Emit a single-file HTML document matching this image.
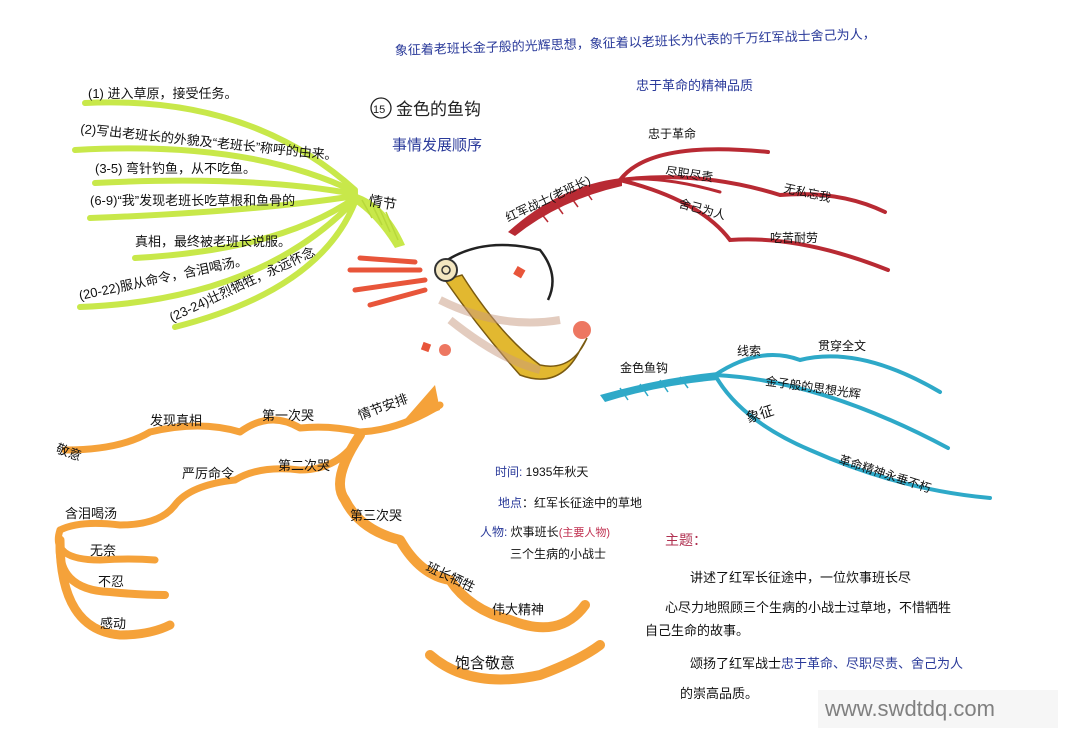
<!DOCTYPE html>
<html><head><meta charset="utf-8"><style>
html,body{margin:0;padding:0;background:#fff;}
svg{display:block;}
text{font-family:"Liberation Sans","Noto Sans CJK SC",sans-serif;}
</style></head><body>
<svg width="1080" height="751" viewBox="0 0 1080 751" xmlns="http://www.w3.org/2000/svg">
<rect width="1080" height="751" fill="#fff"/>
<text x="395" y="55" font-size="13" fill="#2a3a9a" transform="rotate(-2 395 55)">象征着老班长金子般的光辉思想，象征着以老班长为代表的千万红军战士舍己为人，</text>
<text x="636" y="90" font-size="13" fill="#2a3a9a">忠于革命的精神品质</text>
<circle cx="381" cy="108" r="10" fill="none" stroke="#222" stroke-width="1.3"/>
<text x="373" y="113" font-size="11" fill="#222">15</text>
<text x="396" y="115" font-size="17" fill="#222">金色的鱼钩</text>
<text x="392" y="150" font-size="15" fill="#2a3a9a">事情发展顺序</text>

<g fill="none" stroke="#c8e84a" stroke-linecap="round">
<path d="M85 103 Q250 95 355 190" stroke-width="6"/>
<path d="M75 150 Q250 140 355 192" stroke-width="6"/>
<path d="M95 183 Q250 175 355 194" stroke-width="6"/>
<path d="M90 218 Q250 212 355 196" stroke-width="6"/>
<path d="M135 258 Q280 250 355 198" stroke-width="6"/>
<path d="M80 307 Q260 300 355 200" stroke-width="6"/>
<path d="M175 327 Q320 290 355 202" stroke-width="6"/>
</g>
<path d="M350 192 Q385 200 405 245 L395 248 Q375 215 350 200 Z" fill="#c8e84a"/>
<g stroke="#b8d83a" stroke-width="1.5">
<line x1="362" y1="200" x2="372" y2="218"/><line x1="370" y1="200" x2="382" y2="225"/><line x1="378" y1="205" x2="390" y2="232"/><line x1="386" y1="212" x2="398" y2="240"/>
</g>
<g font-size="13" fill="#111">
<text x="88" y="98">(1) 进入草原，接受任务。</text>
<text x="80" y="133" transform="rotate(6 80 133)">(2)写出老班长的外貌及“老班长”称呼的由来。</text>
<text x="95" y="173">(3-5) 弯针钓鱼，从不吃鱼。</text>
<text x="90" y="205">(6-9)“我”发现老班长吃草根和鱼骨的</text>
<text x="135" y="246">真相，最终被老班长说服。</text>
<text x="80" y="300" transform="rotate(-12 80 300)">(20-22)服从命令，含泪喝汤。</text>
<text x="172" y="322" transform="rotate(-25 172 322)">(23-24)壮烈牺牲，永远怀念</text>
<text x="368" y="205" font-size="14" transform="rotate(10 368 205)">情节</text>
</g>

<g fill="none" stroke="#b82a33" stroke-linecap="round">
<path d="M620 180 Q650 140 768 152" stroke-width="4"/>
<path d="M620 180 Q700 170 780 195 Q840 190 885 212" stroke-width="4"/>
<path d="M620 180 Q700 200 730 240 Q800 235 888 270" stroke-width="4"/>
<path d="M620 180 Q660 175 720 192" stroke-width="3"/>
</g>
<path d="M622 178 Q560 185 508 232 L515 236 Q560 200 622 186 Z" fill="#b82a33"/>
<g stroke="#b82a33" stroke-width="1.5"><line x1="540" y1="212" x2="548" y2="222"/><line x1="555" y1="203" x2="563" y2="214"/><line x1="570" y1="196" x2="578" y2="207"/><line x1="585" y1="190" x2="592" y2="200"/></g>
<g font-size="12" fill="#111">
<text x="508" y="222" transform="rotate(-25 508 222)">红军战士(老班长)</text>
<text x="648" y="138">忠于革命</text>
<text x="665" y="175" transform="rotate(8 665 175)">尽职尽责</text>
<text x="678" y="207" transform="rotate(15 678 207)">舍己为人</text>
<text x="783" y="192" transform="rotate(12 783 192)">无私忘我</text>
<text x="770" y="242">吃苦耐劳</text>
</g>

<g>
<path d="M350 270 L420 270 M355 290 L425 280 M360 258 L415 262 M370 305 L425 290" stroke="#e8553a" stroke-width="5" stroke-linecap="round"/>
<path d="M440 265 Q480 235 540 250 Q560 275 548 300" fill="none" stroke="#222" stroke-width="2.5"/>
<path d="M445 280 Q480 330 520 375 Q560 390 580 350 L587 338 Q572 372 540 365 Q500 335 462 275 Z" fill="#e2b830" stroke="#7a5a10" stroke-width="1.5"/>
<circle cx="446" cy="270" r="11" fill="#f3e6c0" stroke="#333" stroke-width="2"/>
<circle cx="446" cy="270" r="4" fill="none" stroke="#333" stroke-width="1.5"/>
<path d="M440 300 Q500 330 560 320 M450 320 Q500 360 540 370" stroke="#c89a80" stroke-width="8" fill="none" opacity=".5"/>
<circle cx="582" cy="330" r="9" fill="#e8553a" opacity=".8"/>
<circle cx="445" cy="350" r="6" fill="#e8553a" opacity=".8"/>
<rect x="515" y="268" width="9" height="9" fill="#e8553a" transform="rotate(30 520 272)"/>
<rect x="422" y="343" width="8" height="8" fill="#e8553a" transform="rotate(20 426 347)"/>
</g>

<g fill="none" stroke="#2ea9c8" stroke-linecap="round">
<path d="M715 375 Q760 345 800 360 Q860 345 940 392" stroke-width="4"/>
<path d="M715 375 Q820 380 948 448" stroke-width="4"/>
<path d="M715 375 Q740 420 810 450 Q900 490 990 498" stroke-width="4"/>
</g>
<path d="M718 372 Q660 378 600 395 L605 402 Q660 385 718 380 Z" fill="#2ea9c8"/>
<g stroke="#2ea9c8" stroke-width="1.5"><line x1="620" y1="388" x2="628" y2="400"/><line x1="640" y1="384" x2="648" y2="396"/><line x1="660" y1="380" x2="668" y2="392"/><line x1="680" y1="377" x2="688" y2="388"/></g>
<g font-size="12" fill="#111">
<text x="620" y="372">金色鱼钩</text>
<text x="737" y="355">线索</text>
<text x="818" y="350">贯穿全文</text>
<text x="765" y="385" transform="rotate(8 765 385)">金子般的思想光辉</text>
<text x="748" y="423" font-size="14" transform="rotate(-18 748 423)">象征</text>
<text x="838" y="463" transform="rotate(18 838 463)">革命精神永垂不朽</text>
</g>

<g font-size="12" fill="#111">
<text x="495" y="476"><tspan fill="#2a3a9a">时间:</tspan> 1935年秋天</text>
<text x="498" y="507"><tspan fill="#2a3a9a">地点</tspan>：红军长征途中的草地</text>
<text x="480" y="536"><tspan fill="#2a3a9a">人物:</tspan> 炊事班长<tspan fill="#c03050" font-size="11">(主要人物)</tspan></text>
<text x="510" y="558">三个生病的小战士</text>
</g>
<g font-size="13" fill="#111">
<text x="665" y="545" fill="#b03050" font-size="14">主题：</text>
<text x="690" y="582">讲述了红军长征途中，一位炊事班长尽</text>
<text x="665" y="612">心尽力地照顾三个生病的小战士过草地，不惜牺牲</text>
<text x="645" y="635">自己生命的故事。</text>
<text x="690" y="668">颂扬了红军战士<tspan fill="#2a3a9a">忠于革命、尽职尽责、舍己为人</tspan></text>
<text x="680" y="698">的崇高品质。</text>
</g>

<g fill="none" stroke="#f5a23a" stroke-linecap="round" stroke-linejoin="round">
<path d="M440 405 Q400 430 360 432 Q330 425 300 428 Q270 410 240 432 Q200 420 150 432 Q120 450 65 450" stroke-width="7"/>
<path d="M360 435 Q340 470 300 470 Q260 465 235 480 Q190 485 175 505 Q160 525 120 525 Q80 520 60 530" stroke-width="7"/>
<path d="M360 435 Q330 480 345 500 Q360 530 400 540 Q420 575 450 580 Q470 610 510 620 Q560 640 585 605" stroke-width="10"/>
<path d="M60 530 Q50 560 100 560 Q130 558 155 560" stroke-width="7"/>
<path d="M60 540 Q55 590 110 592 Q140 595 165 595" stroke-width="8"/>
<path d="M60 540 Q60 630 120 635 Q150 635 170 625" stroke-width="9"/>
<path d="M430 655 Q470 690 540 675 Q580 660 600 645" stroke-width="10"/>
</g>
<path d="M435 385 L440 410 L400 425 Z" fill="#f5a23a"/>
<g font-size="13" fill="#111">
<text x="360" y="420" transform="rotate(-20 360 420)">情节安排</text>
<text x="150" y="425">发现真相</text>
<text x="262" y="420">第一次哭</text>
<text x="55" y="452" transform="rotate(20 55 452)">敬意</text>
<text x="182" y="478">严厉命令</text>
<text x="278" y="470">第二次哭</text>
<text x="65" y="518">含泪喝汤</text>
<text x="90" y="555">无奈</text>
<text x="98" y="586">不忍</text>
<text x="100" y="628">感动</text>
<text x="350" y="520">第三次哭</text>
<text x="425" y="570" transform="rotate(25 425 570)">班长牺牲</text>
<text x="492" y="614">伟大精神</text>
<text x="455" y="668" font-size="15">饱含敬意</text>
</g>

<rect x="818" y="690" width="240" height="38" fill="#f4f4f4" opacity=".8"/>
<text x="825" y="716" font-size="22" fill="#808080">www.swdtdq.com</text>
</svg>
</body></html>
